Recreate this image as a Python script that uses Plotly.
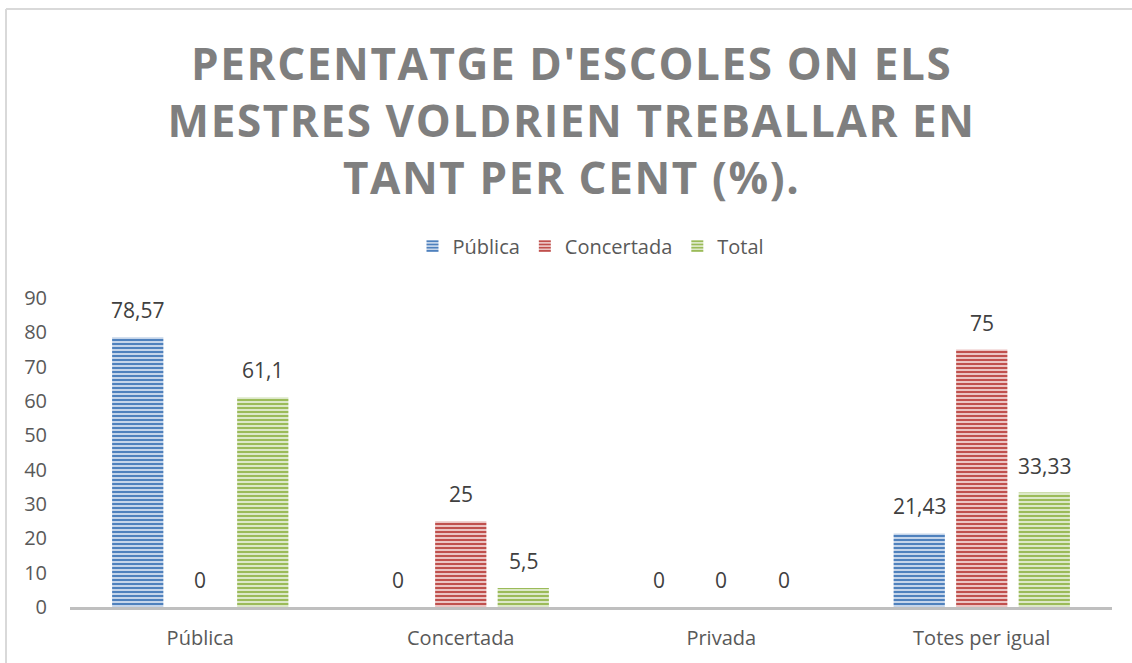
import plotly.graph_objects as go

categories = ["Pública", "Concertada", "Privada", "Totes per igual"]
series_names = ["Pública", "Concertada", "Total"]
publica = [78.57, 0, 0, 21.43]
concertada = [0, 25, 0, 75]
total = [61.1, 5.5, 0, 33.33]
labels_publica = ["78,57", "0", "0", "21,43"]
labels_concertada = ["0", "25", "0", "75"]
labels_total = ["61,1", "5,5", "0", "33,33"]
yticks = [0, 10, 20, 30, 40, 50, 60, 70, 80, 90]

colors = ["#4F81BD", "#C0504D", "#9BBB59"]
light = ["#C5D5EA", "#EBC4C3", "#DCE8C8"]

W, H = 1132, 663
ML, MR, MT, MB = 70, 20, 298, 56
BARGAP = 0.28
cat_px = (W - ML - MR) / len(categories)
slot_px = cat_px * (1 - BARGAP) / len(series_names)

fig = go.Figure()
for i, (name, vals, labs, c, lc) in enumerate(zip(series_names, [publica, concertada, total],
                                   [labels_publica, labels_concertada, labels_total],
                                   colors, light)):
    fig.add_trace(go.Bar(
        name=name, x=categories, y=vals,
        marker=dict(color=c, line=dict(width=0),
                    pattern=dict(shape="-", fgcolor=c, bgcolor=lc,
                                 size=4, solidity=0.5, fillmode="replace")),
    ))
    for cat, v, lab in zip(categories, vals, labs):
        fig.add_annotation(x=cat, y=v, xref="x", yref="y", text=lab, showarrow=False,
                           xshift=(i - 1) * slot_px, yshift=11, yanchor="bottom",
                           font=dict(family="Open Sans", size=21, color="#404040"))

fig.update_layout(
    width=W, height=H,
    margin=dict(l=ML, r=MR, t=MT, b=MB),
    paper_bgcolor="white", plot_bgcolor="white",
    barmode="group", bargap=BARGAP, bargroupgap=0.18,
    title=dict(text="PERCENTATGE D'ESCOLES ON ELS<br>MESTRES VOLDRIEN TREBALLAR EN<br>TANT PER CENT (%).",
               x=0.505, xanchor="center", y=0.88, yanchor="middle",
               font=dict(family="Open Sans", size=44, color="#7F7F7F", weight="bold")),
    legend=dict(orientation="h", x=0.5, xanchor="center", y=1.168, yanchor="middle",
                font=dict(family="Open Sans", size=20, color="#595959"),
                itemwidth=30, traceorder="normal"),
    showlegend=True,
    font=dict(family="Open Sans"),
)
fig.update_xaxes(showline=True, linecolor="#BFBFBF", linewidth=3, ticks="",
                 tickfont=dict(family="Open Sans", size=20, color="#595959"),
                 showgrid=False, ticklabelstandoff=11)
fig.update_yaxes(range=[0, 90], tickvals=yticks, showgrid=False, zeroline=False,
                 showline=False, ticks="",
                 tickfont=dict(family="Open Sans", size=20, color="#595959"),
                 ticklabelstandoff=22)
bx = (6 - ML) / (W - ML - MR)
by = (H - MB - 9) / (H - MT - MB)
fig.add_shape(type="line", xref="paper", yref="paper", x0=bx, y0=-0.5, x1=bx, y1=by,
              line=dict(color="#D9D9D9", width=2))
fig.add_shape(type="line", xref="paper", yref="paper", x0=bx, y0=by, x1=1.3, y1=by,
              line=dict(color="#D9D9D9", width=2))

post = ("document.body.style.margin='0';"
        "var t=document.querySelectorAll('.gtitle');"
        "for(var k=0;k<t.length;k++){t[k].style.letterSpacing='1.6px';}")
fig.write_html("out.html", post_script=post, config={"displayModeBar": False})
